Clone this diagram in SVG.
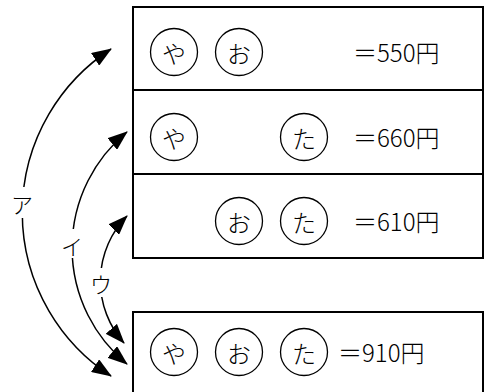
<svg xmlns="http://www.w3.org/2000/svg" width="488" height="392" viewBox="0 0 488 392">
  <style>
    .box { fill: none; stroke: #000; stroke-width: 2; }
    .coin { fill: #fff; stroke: #000; stroke-width: 1.3; }
    .kana { font-family: "Noto Sans CJK JP", "Noto Sans", sans-serif; font-weight: 300; font-size: 24px; fill: #000; text-anchor: middle; dominant-baseline: central; }
    .price { font-family: "Noto Sans CJK JP", "Noto Sans", sans-serif; font-weight: 300; font-size: 24px; fill: #000; }
    .arc { fill: none; stroke: #000; stroke-width: 1.5; marker-start: url(#head); marker-end: url(#head); }
    .tag { font-family: "Noto Sans CJK JP", "Noto Sans", sans-serif; font-weight: 300; font-size: 22px; fill: #000; text-anchor: middle; dominant-baseline: central; }
    .gap { fill: #fff; stroke: none; }
  </style>
  <defs>
    <marker id="head" viewBox="0 0 20 15" refX="19" refY="7.5" markerWidth="20" markerHeight="15" markerUnits="userSpaceOnUse" orient="auto-start-reverse">
      <path d="M0,0 L20,7.5 L0,15 Z" fill="#000"/>
    </marker>
  </defs>

  <!-- price table: three rows stacked -->
  <g id="row-yao">
    <rect class="box" x="133" y="7" width="350" height="83"/>
    <circle class="coin" cx="174" cy="52" r="23.5"/>
    <text class="kana" x="174" y="52">や</text>
    <circle class="coin" cx="239" cy="52" r="23.5"/>
    <text class="kana" x="239" y="52">お</text>
    <text class="price" x="353" y="62">＝550円</text>
  </g>
  <g id="row-yata">
    <rect class="box" x="133" y="90" width="350" height="84"/>
    <circle class="coin" cx="174" cy="137" r="23.5"/>
    <text class="kana" x="174" y="137">や</text>
    <circle class="coin" cx="304" cy="137" r="23.5"/>
    <text class="kana" x="304" y="137">た</text>
    <text class="price" x="353" y="147">＝660円</text>
  </g>
  <g id="row-ota">
    <rect class="box" x="133" y="174" width="350" height="84"/>
    <circle class="coin" cx="239" cy="221" r="23.5"/>
    <text class="kana" x="239" y="221">お</text>
    <circle class="coin" cx="304" cy="221" r="23.5"/>
    <text class="kana" x="304" y="221">た</text>
    <text class="price" x="353" y="231">＝610円</text>
  </g>

  <!-- total row, open at the bottom edge -->
  <g id="row-total">
    <rect class="box" x="133" y="312" width="350" height="90"/>
    <circle class="coin" cx="174" cy="352" r="23.5"/>
    <text class="kana" x="174" y="352">や</text>
    <circle class="coin" cx="239" cy="352" r="23.5"/>
    <text class="kana" x="239" y="352">お</text>
    <circle class="coin" cx="304" cy="352" r="23.5"/>
    <text class="kana" x="304" y="352">た</text>
    <text class="price" x="338" y="362">＝910円</text>
  </g>

  <!-- double-headed arcs linking each row to the total -->
  <g id="connectors">
    <path class="arc" d="M111,49 A195,195 0 0 0 111,376"/>
    <path class="arc" d="M127,132 A150,150 0 0 0 127,364"/>
    <path class="arc" d="M127,216 A93,93 0 0 0 124,343"/>
    <rect class="gap" x="10" y="187" width="26" height="31"/>
    <text class="tag" x="22" y="203">ア</text>
    <rect class="gap" x="62" y="229" width="22" height="29"/>
    <text class="tag" x="72" y="245">イ</text>
    <rect class="gap" x="90" y="268" width="22" height="29"/>
    <text class="tag" x="101" y="283">ウ</text>
  </g>
</svg>
